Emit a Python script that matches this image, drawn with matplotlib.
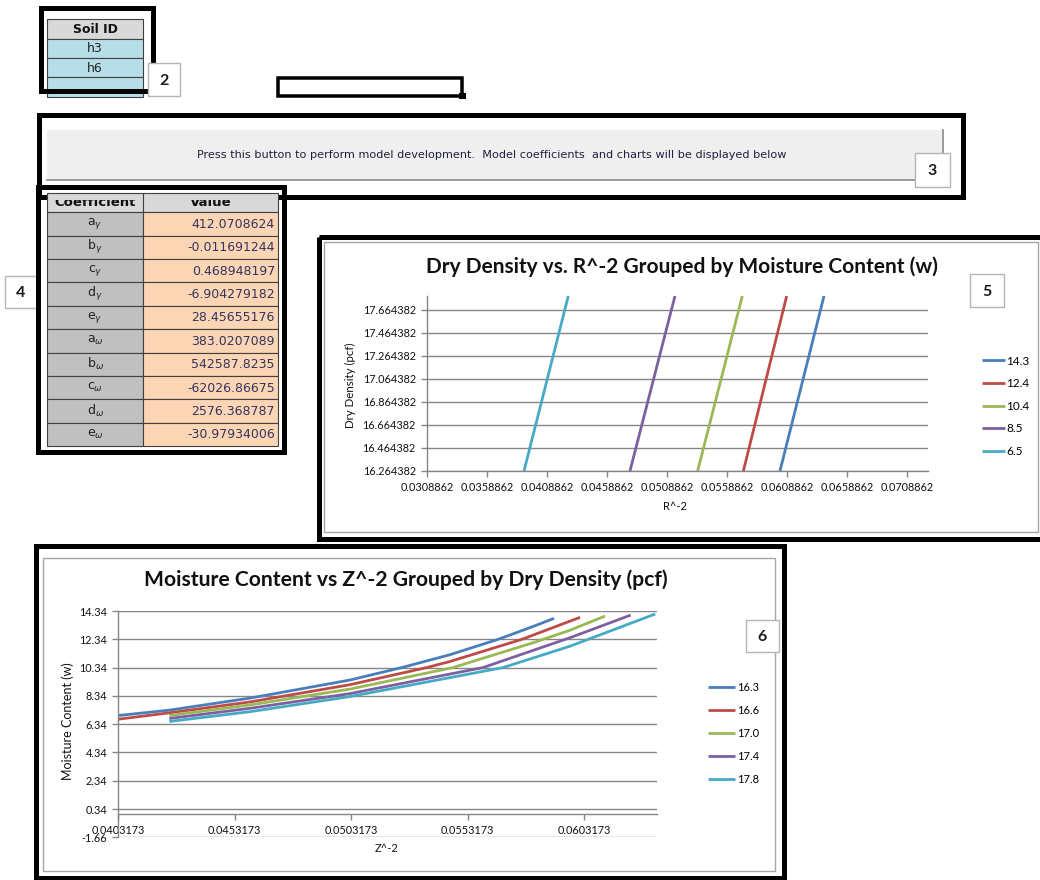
import matplotlib
matplotlib.use("Agg")
import matplotlib.pyplot as plt
from matplotlib.patches import Rectangle
from matplotlib.transforms import Bbox, TransformedBbox
import numpy as np

# ---- data ----
soil_ids = ["h3", "h6", ""]

coef_names = [r"a$_\gamma$", r"b$_\gamma$", r"c$_\gamma$", r"d$_\gamma$", r"e$_\gamma$",
              r"a$_\omega$", r"b$_\omega$", r"c$_\omega$", r"d$_\omega$", r"e$_\omega$"]
coef_values = ["412.0708624", "-0.011691244", "0.468948197", "-6.904279182", "28.45655176",
               "383.0207089", "542587.8235", "-62026.86675", "2576.368787", "-30.97934006"]

# chart 5: dry density vs R^-2, one line per moisture content
moisture = ["14.3", "12.4", "10.4", "8.5", "6.5"]
dd_ends = [16.264382, 17.786]
r_low = [0.06030, 0.05725, 0.05344, 0.04780, 0.03897]
r_high = [0.06397, 0.06086, 0.05716, 0.05155, 0.04266]

# chart 6: moisture content vs Z^-2, one curve per dry density
density = ["16.3", "16.6", "17.0", "17.4", "17.8"]
z_16_3 = [0.0403173, 0.042506, 0.045969, 0.050261, 0.052480, 0.054553, 0.056626, 0.058128, 0.059017]
w_16_3 = [6.95, 7.33, 8.18, 9.46, 10.34, 11.25, 12.34, 13.25, 13.82]
z_16_6 = [0.0403173, 0.042506, 0.045969, 0.050261, 0.053553, 0.054553, 0.057643, 0.060133]
w_16_6 = [6.69, 7.14, 7.91, 9.13, 10.34, 10.77, 12.34, 13.89]
z_17_0 = [0.042506, 0.045969, 0.050261, 0.054682, 0.058128, 0.059703, 0.061205]
w_17_0 = [6.95, 7.70, 8.82, 10.34, 12.10, 12.98, 13.98]
z_17_4 = [0.042506, 0.045969, 0.050261, 0.055969, 0.059703, 0.062308]
w_17_4 = [6.74, 7.46, 8.50, 10.34, 12.45, 14.05]
z_17_8 = [0.042506, 0.045969, 0.050261, 0.056828, 0.059703, 0.063364]
w_17_8 = [6.53, 7.22, 8.29, 10.34, 11.85, 14.13]

colors = ["#4a7ebb", "#be4b48", "#98b954", "#7d60a0", "#46aac5"]
GRID = "#868686"
W, H = 1040, 880
PX = 72 / 100  # points per pixel


def rect(ax, x0, y0, x1, y1, fc="none", ec="black", lw=1.0, z=1):
    r = Rectangle((x0, y0), x1 - x0, y1 - y0, facecolor=fc, edgecolor=ec,
                  linewidth=lw, zorder=z)
    ax.add_patch(r)
    return r


def thick_box(ax, x0, y0, x1, y1, t=5, z=5):
    h = t / 2
    rect(ax, x0 + h, y0 + h, x1 - h, y1 - h, lw=t * PX, z=z)


def label_box(ax, x0, y0, x1, y1, txt, z=8):
    rect(ax, x0, y0, x1, y1, fc="white", ec="#b4b4b4", lw=1.0, z=z)
    ax.text((x0 + x1) / 2, (y0 + y1) / 2 + 1, txt, ha="center", va="center",
            fontsize=11.5, fontweight="bold", family="Lato", color="#1a1a1a", zorder=z + 0.5)


def fig_axes(x0, y0, x1, y1):
    return fig.add_axes([x0 / W, 1 - y1 / H, (x1 - x0) / W, (y1 - y0) / H])


fig = plt.figure(figsize=(W / 100, H / 100), dpi=100)
bg = fig.add_axes([0, 0, 1, 1])
bg.set_xlim(0, W)
bg.set_ylim(H, 0)
bg.axis("off")

# ---- block 2: soil id ----
rect(bg, 46.7, 19.3, 143.3, 39, fc="#d9d9d9", ec="#404040", lw=0.8, z=2)
bg.text(95, 29.5, "Soil ID", ha="center", va="center", fontsize=9,
        fontweight="bold", color="#111111", zorder=3)
for i, s in enumerate(soil_ids):
    y0 = 39 + i * 19.2
    rect(bg, 46.7, y0, 143.3, y0 + 19.2, fc="#b7dee8", ec="#404040", lw=0.8, z=2)
    bg.text(95, y0 + 9.8, s, ha="center", va="center", fontsize=9,
            color="#222222", zorder=3)
thick_box(bg, 38.3, 6, 155, 94)
label_box(bg, 147.7, 63.3, 180, 96, "2")

# small empty box
thick_box(bg, 276.7, 76, 464, 97.7, t=3.5)
rect(bg, 459, 92.7, 466, 99.3, fc="black", ec="black", lw=0, z=6)

# ---- block 3: button ----
rect(bg, 46.7, 130, 943.3, 180, fc="#efefef", ec="none", z=2)
bg.plot([46.7, 943.3, 943.3], [180, 180, 130], color="#8a8a8a", lw=1.2, zorder=3)
bg.text(492, 155, "Press this button to perform model development.  Model coefficients  "
        "and charts will be displayed below", ha="center", va="center",
        fontsize=8.1, color="#1f2040", zorder=3)
thick_box(bg, 36.7, 112.7, 965, 200, z=3)
label_box(bg, 915, 153, 950, 187, "3")

# ---- block 4: coefficients ----
rect(bg, 46.7, 192.7, 143.3, 212.3, fc="#d9d9d9", ec="#404040", lw=0.8, z=4)
rect(bg, 143.3, 192.7, 277.7, 212.3, fc="#d9d9d9", ec="#404040", lw=0.8, z=4)
# header text is partly hidden at the top, as in the sheet
hdr_clip = TransformedBbox(Bbox([[0, 200.5], [400, 230]]), bg.transData)
for cx, t in [(95, "Coefficient"), (210.5, "Value")]:
    tt = bg.text(cx, 202.5, t, ha="center", va="center", fontsize=9.5,
                 fontweight="bold", color="#111111", zorder=5)
    tt.set_clip_on(True)
    tt.set_clip_box(hdr_clip)
rh = (446 - 212.3) / 10
for i, (nm, val) in enumerate(zip(coef_names, coef_values)):
    y0 = 212.3 + i * rh
    rect(bg, 46.7, y0, 143.3, y0 + rh, fc="#c0c0c0", ec="#404040", lw=0.8, z=4)
    rect(bg, 143.3, y0, 277.7, y0 + rh, fc="#fcd5b4", ec="#404040", lw=0.8, z=4)
    bg.text(95, y0 + rh / 2, nm, ha="center", va="center", fontsize=9,
            color="#222222", zorder=5)
    bg.text(275, y0 + rh / 2 + 0.5, val, ha="right", va="center", fontsize=9,
            color="#34345e", zorder=5)
label_box(bg, 5, 276, 37, 308, "4", z=5)
thick_box(bg, 35, 185, 286.7, 455, z=7)

# ---- block 5: chart frame ----
rect(bg, 324.3, 241.7, 1038, 531.7, fc="white", ec="#a6a6a6", lw=1.0, z=2)
thick_box(bg, 316, 235, 1046, 541.7)
label_box(bg, 970, 274, 1004, 307, "5")
bg.text(682, 267, "Dry Density vs. R^-2 Grouped by Moisture Content (w)", ha="center",
        va="center", fontsize=15, fontweight="bold", family="Lato", color="#111111", zorder=3)
bg.text(350, 385, "Dry Density (pcf)", rotation=90, ha="center", va="center",
        fontsize=8.3, family="Lato", color="#111111", zorder=3)
bg.text(675, 507, "R^-2", ha="center", va="center", fontsize=8, family="Lato",
        color="#111111", zorder=3)

ax5 = fig_axes(427, 296, 928, 471)
ax5.set_zorder(10)
ax5.patch.set_visible(False)
for i in range(len(moisture)):
    ax5.plot([r_low[i], r_high[i]], dd_ends, color=colors[i], lw=2.0,
             label=moisture[i], solid_capstyle="butt")
ax5.set_xlim(0.0308862, 0.0308862 + 501 / 12000)
ax5.set_ylim(16.264382, 17.786)
ax5.set_xticks(0.0308862 + 0.005 * np.arange(9))
ax5.set_xticklabels(["%.7f" % v for v in 0.0308862 + 0.005 * np.arange(9)])
ax5.set_yticks(16.264382 + 0.2 * np.arange(8))
ax5.set_yticklabels(["%.6f" % v for v in 16.264382 + 0.2 * np.arange(8)])

# ---- block 6: chart frame ----
rect(bg, 42.7, 557.7, 775, 870.7, fc="white", ec="#a6a6a6", lw=1.0, z=2)
thick_box(bg, 33, 544, 786.7, 881)
label_box(bg, 745.7, 620, 779.3, 652, "6")
bg.text(406, 580, "Moisture Content vs Z^-2 Grouped by Dry Density (pcf)", ha="center",
        va="center", fontsize=15.2, fontweight="bold", family="Lato", color="#111111", zorder=3)
bg.text(68, 721, "Moisture Content (w)", rotation=90, ha="center", va="center",
        fontsize=9, family="Lato", color="#111111", zorder=3)
bg.text(387, 848, "Z^-2", ha="center", va="center", fontsize=8, family="Lato",
        color="#111111", zorder=3)

ax6 = fig_axes(118.3, 611, 656.7, 837.3)
ax6.set_zorder(10)
ax6.patch.set_visible(False)
curves = [(z_16_3, w_16_3), (z_16_6, w_16_6), (z_17_0, w_17_0), (z_17_4, w_17_4), (z_17_8, w_17_8)]
for i, (zz, ww) in enumerate(curves):
    ax6.plot(zz, ww, color=colors[i], lw=2.0, label=density[i],
             solid_capstyle="butt", solid_joinstyle="round")
ax6.set_xlim(0.0403173, 0.0403173 + 538.4 / 23300)
ax6.set_ylim(-1.66, 14.34)
ax6.set_xticks(0.0403173 + 0.005 * np.arange(5))
ax6.set_xticklabels(["%.7f" % v for v in 0.0403173 + 0.005 * np.arange(5)])
ax6.set_yticks(-1.66 + 2 * np.arange(9))
ax6.set_yticklabels(["%.2f" % v for v in -1.66 + 2 * np.arange(9)])
ax6.spines["bottom"].set_position(("data", 0))

for ax in (ax5, ax6):
    ax.spines["top"].set_visible(False)
    ax.spines["right"].set_visible(False)
    for s in ("left", "bottom"):
        ax.spines[s].set_color(GRID)
        ax.spines[s].set_linewidth(1.0)
    ax.grid(axis="y", color=GRID, lw=1.0)
    ax.set_axisbelow(True)
    ax.tick_params(axis="both", colors=GRID, labelcolor="#111111", labelsize=7.8,
                   length=4, width=1.0, direction="out")
    ax.tick_params(axis="y", pad=4)
    ax.tick_params(axis="x", pad=4)
    for lb in ax.get_xticklabels() + ax.get_yticklabels():
        lb.set_family("Lato")

ax5.legend(loc="upper left", bbox_to_anchor=(981.7 / W, 1 - 355.5 / H),
           bbox_transform=fig.transFigure, frameon=False,
           handlelength=1.95, handletextpad=0.15, labelspacing=0.98,
           borderpad=0, borderaxespad=0, prop={"family": "Lato", "size": 8.5})
ax6.legend(loc="upper left", bbox_to_anchor=(708 / W, 1 - 682 / H),
           bbox_transform=fig.transFigure, frameon=False,
           handlelength=2.4, handletextpad=0.25, labelspacing=1.07,
           borderpad=0, borderaxespad=0, prop={"family": "Lato", "size": 8})

fig.savefig("out.png", dpi=100)
